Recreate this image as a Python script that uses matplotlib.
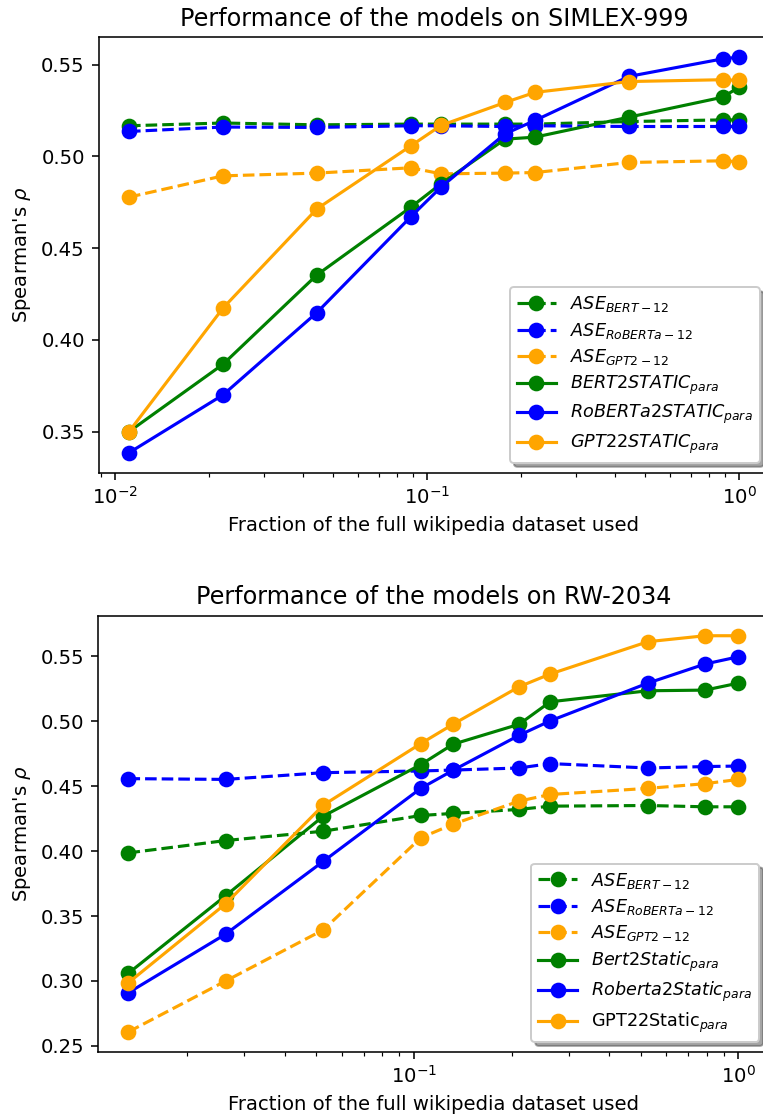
import matplotlib
matplotlib.use("Agg")
import matplotlib.pyplot as plt

# ---------------- data ----------------
simlex_x = [0.0111, 0.0222, 0.0444, 0.0889, 0.111, 0.178, 0.222, 0.444, 0.889, 1.0]
simlex_ase_bert = [0.5167, 0.5182, 0.5172, 0.5176, 0.5176, 0.5176, 0.5176, 0.5190, 0.5199, 0.5199]
simlex_ase_roberta = [0.5136, 0.5160, 0.5158, 0.5167, 0.5167, 0.5163, 0.5167, 0.5163, 0.5163, 0.5163]
simlex_ase_gpt2 = [0.4778, 0.4894, 0.4909, 0.4938, 0.4905, 0.4909, 0.4912, 0.4967, 0.4976, 0.4971]
simlex_bert2static = [0.3500, 0.3867, 0.4354, 0.4724, 0.4851, 0.5094, 0.5105, 0.5214, 0.5323, 0.5378]
simlex_roberta2static = [0.3385, 0.3700, 0.4149, 0.4672, 0.4833, 0.5123, 0.5196, 0.5436, 0.5532, 0.5541]
simlex_gpt22static = [0.3500, 0.4173, 0.4714, 0.5058, 0.5169, 0.5294, 0.5349, 0.5408, 0.5418, 0.5414]

rw_x = [0.0132, 0.0263, 0.0526, 0.105, 0.132, 0.211, 0.263, 0.526, 0.789, 1.0]
rw_ase_bert = [0.3987, 0.4082, 0.4154, 0.4275, 0.4291, 0.4322, 0.4347, 0.4352, 0.4342, 0.4342]
rw_ase_roberta = [0.4559, 0.4553, 0.4605, 0.4618, 0.4625, 0.4641, 0.4675, 0.4641, 0.4652, 0.4656]
rw_ase_gpt2 = [0.2608, 0.3000, 0.3394, 0.4103, 0.4208, 0.4386, 0.4437, 0.4484, 0.4520, 0.4553]
rw_bert2static = [0.3060, 0.3657, 0.4270, 0.4667, 0.4824, 0.4978, 0.5151, 0.5236, 0.5241, 0.5295]
rw_roberta2static = [0.2910, 0.3361, 0.3922, 0.4484, 0.4623, 0.4893, 0.5004, 0.5295, 0.5442, 0.5498]
rw_gpt22static = [0.2987, 0.3595, 0.4355, 0.4829, 0.4978, 0.5267, 0.5365, 0.5614, 0.5660, 0.5660]

simlex_labels = [r'$ASE_{BERT-12}$', r'$ASE_{RoBERTa-12}$', r'$ASE_{GPT2-12}$',
                 r'$BERT2STATIC_{para}$', r'$RoBERTa2STATIC_{para}$', r'$GPT22STATIC_{para}$']
rw_labels = [r'$ASE_{BERT-12}$', r'$ASE_{RoBERTa-12}$', r'$ASE_{GPT2-12}$',
             r'$Bert2Static_{para}$', r'$Roberta2Static_{para}$', r'GPT22Static$_{para}$']

colors = ['green', 'blue', 'orange', 'green', 'blue', 'orange']
styles = ['--', '--', '--', '-', '-', '-']

titles = ['Performance of the models on SIMLEX-999', 'Performance of the models on RW-2034']
xlabel = 'Fraction of the full wikipedia dataset used'
ylabel = r"Spearman's $\rho$"

# ---------------- figure ----------------
DPI = 141
fig = plt.figure(figsize=(763 / DPI, 1115 / DPI), dpi=DPI)

ax1 = fig.add_axes([0.1291, 0.5762, 0.8794, 0.3903])
ax2 = fig.add_axes([0.1284, 0.0568, 0.8794, 0.3908])

panels = [
    (ax1, simlex_x, [simlex_ase_bert, simlex_ase_roberta, simlex_ase_gpt2,
                     simlex_bert2static, simlex_roberta2static, simlex_gpt22static],
     simlex_labels, titles[0]),
    (ax2, rw_x, [rw_ase_bert, rw_ase_roberta, rw_ase_gpt2,
                 rw_bert2static, rw_roberta2static, rw_gpt22static],
     rw_labels, titles[1]),
]

for ax, xs, series, labels, title in panels:
    for ys, lab, c, ls in zip(series, labels, colors, styles):
        ax.plot(xs, ys, linestyle=ls, marker='o', color=c, label=lab,
                markersize=7, linewidth=1.6)
    ax.set_xscale('log')
    ax.set_title(title, fontsize=12.2)
    ax.set_xlabel(xlabel, fontsize=10)
    ax.set_ylabel(ylabel, fontsize=10)
    ax.legend(loc='lower right', shadow=True, fontsize=9, handlelength=2.2,
              labelspacing=0.36, borderaxespad=0.55)

fig.savefig('out.png', dpi=DPI)
